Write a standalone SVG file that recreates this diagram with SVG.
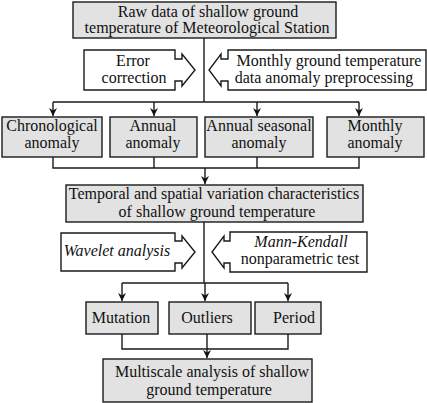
<svg xmlns="http://www.w3.org/2000/svg" width="427" height="403" viewBox="0 0 427 403">
<defs>
<marker id="ah" markerWidth="10" markerHeight="10" refX="8" refY="5" orient="auto" markerUnits="userSpaceOnUse">
<path d="M0,1 L8,5 L0,9 L2.5,5 Z" fill="#111"/>
</marker>
<style>
.box{fill:#e2e2e2;stroke:#1a1a1a;stroke-width:1.4}
.wbox{fill:#fff;stroke:#1a1a1a;stroke-width:1.4}
.ln{fill:none;stroke:#1a1a1a;stroke-width:1.4}
text{font-family:"Liberation Serif","Times New Roman",serif;font-size:16px;fill:#111;text-anchor:middle}
.it{font-style:italic}
</style>
</defs>
<rect width="427" height="403" fill="#fff"/>
<g id="connectors">
<path class="ln" d="M204,38 V102"/>
<path class="ln" d="M204,222 V283"/>
<path class="ln" d="M53,102 H359"/>
<path class="ln" d="M53,102 V116" marker-end="url(#ah)"/>
<path class="ln" d="M154,102 V116" marker-end="url(#ah)"/>
<path class="ln" d="M257,102 V116" marker-end="url(#ah)"/>
<path class="ln" d="M359,102 V116" marker-end="url(#ah)"/>
<path class="ln" d="M53,157 V168 H359 V157 M154,157 V168 M257,157 V168"/>
<path class="ln" d="M205,168 V184" marker-end="url(#ah)"/>
<path class="ln" d="M122,283 H288"/>
<path class="ln" d="M122,283 V301" marker-end="url(#ah)"/>
<path class="ln" d="M205,283 V301" marker-end="url(#ah)"/>
<path class="ln" d="M288,283 V301" marker-end="url(#ah)"/>
<path class="ln" d="M122,334 V349 H288 V334 M207,334 V349"/>
<path class="ln" d="M207,349 V358" marker-end="url(#ah)"/>
</g>
<g id="raw">
<rect class="box" x="73" y="2" width="263" height="36"/>
<text x="208" y="17">Raw data of shallow ground</text>
<text x="207" y="33">temperature of Meteorological Station</text>
</g>
<g id="error">
<path class="wbox" d="M84,50 H175 V59 H182 V54 L195,70 L182,86 V81 H175 V90 H84 Z"/>
<text x="133" y="66">Error</text>
<text x="134" y="83">correction</text>
</g>
<g id="monthlypre">
<path class="wbox" d="M426,50 H228 V59 H221 V54 L209,70 L221,86 V81 H228 V90 H426 Z"/>
<text x="329" y="66">Monthly ground temperature</text>
<text x="324" y="83">data anomaly preprocessing</text>
</g>
<g id="chrono">
<rect class="box" x="2" y="117" width="100" height="40"/>
<text x="52" y="131">Chronological</text>
<text x="52" y="148">anomaly</text>
</g>
<g id="annual">
<rect class="box" x="110" y="117" width="87" height="40"/>
<text x="153" y="131">Annual</text>
<text x="153" y="148">anomaly</text>
</g>
<g id="seasonal">
<rect class="box" x="205" y="117" width="108" height="40"/>
<text x="259" y="131">Annual seasonal</text>
<text x="259" y="148">anomaly</text>
</g>
<g id="monthly">
<rect class="box" x="327" y="117" width="97" height="40"/>
<text x="375" y="131">Monthly</text>
<text x="375" y="148">anomaly</text>
</g>
<g id="temporal">
<rect class="box" x="66" y="185" width="297" height="37"/>
<text x="214" y="199">Temporal and spatial variation characteristics</text>
<text x="217" y="217">of shallow ground temperature</text>
</g>
<g id="wavelet">
<path class="wbox" d="M61,233 H175 V241 H182 V236 L195,252 L182,268 V263 H175 V271 H61 Z"/>
<text class="it" x="117" y="256">Wavelet analysis</text>
</g>
<g id="mk">
<path class="wbox" d="M367,232 H230 V241 H224 V236 L212,252 L224,268 V263 H230 V272 H367 Z"/>
<text class="it" x="301" y="247">Mann-Kendall</text>
<text x="300" y="264">nonparametric test</text>
</g>
<g id="mutation">
<rect class="box" x="86" y="302" width="72" height="32"/>
<text x="121" y="323">Mutation</text>
</g>
<g id="outliers">
<rect class="box" x="169" y="302" width="82" height="32"/>
<text x="207" y="323">Outliers</text>
</g>
<g id="period">
<rect class="box" x="255" y="302" width="66" height="32"/>
<text x="294" y="323">Period</text>
</g>
<g id="multiscale">
<rect class="box" x="103" y="359" width="209" height="43"/>
<text x="212" y="377">Multiscale analysis of shallow</text>
<text x="209" y="395">ground temperature</text>
</g>
</svg>
